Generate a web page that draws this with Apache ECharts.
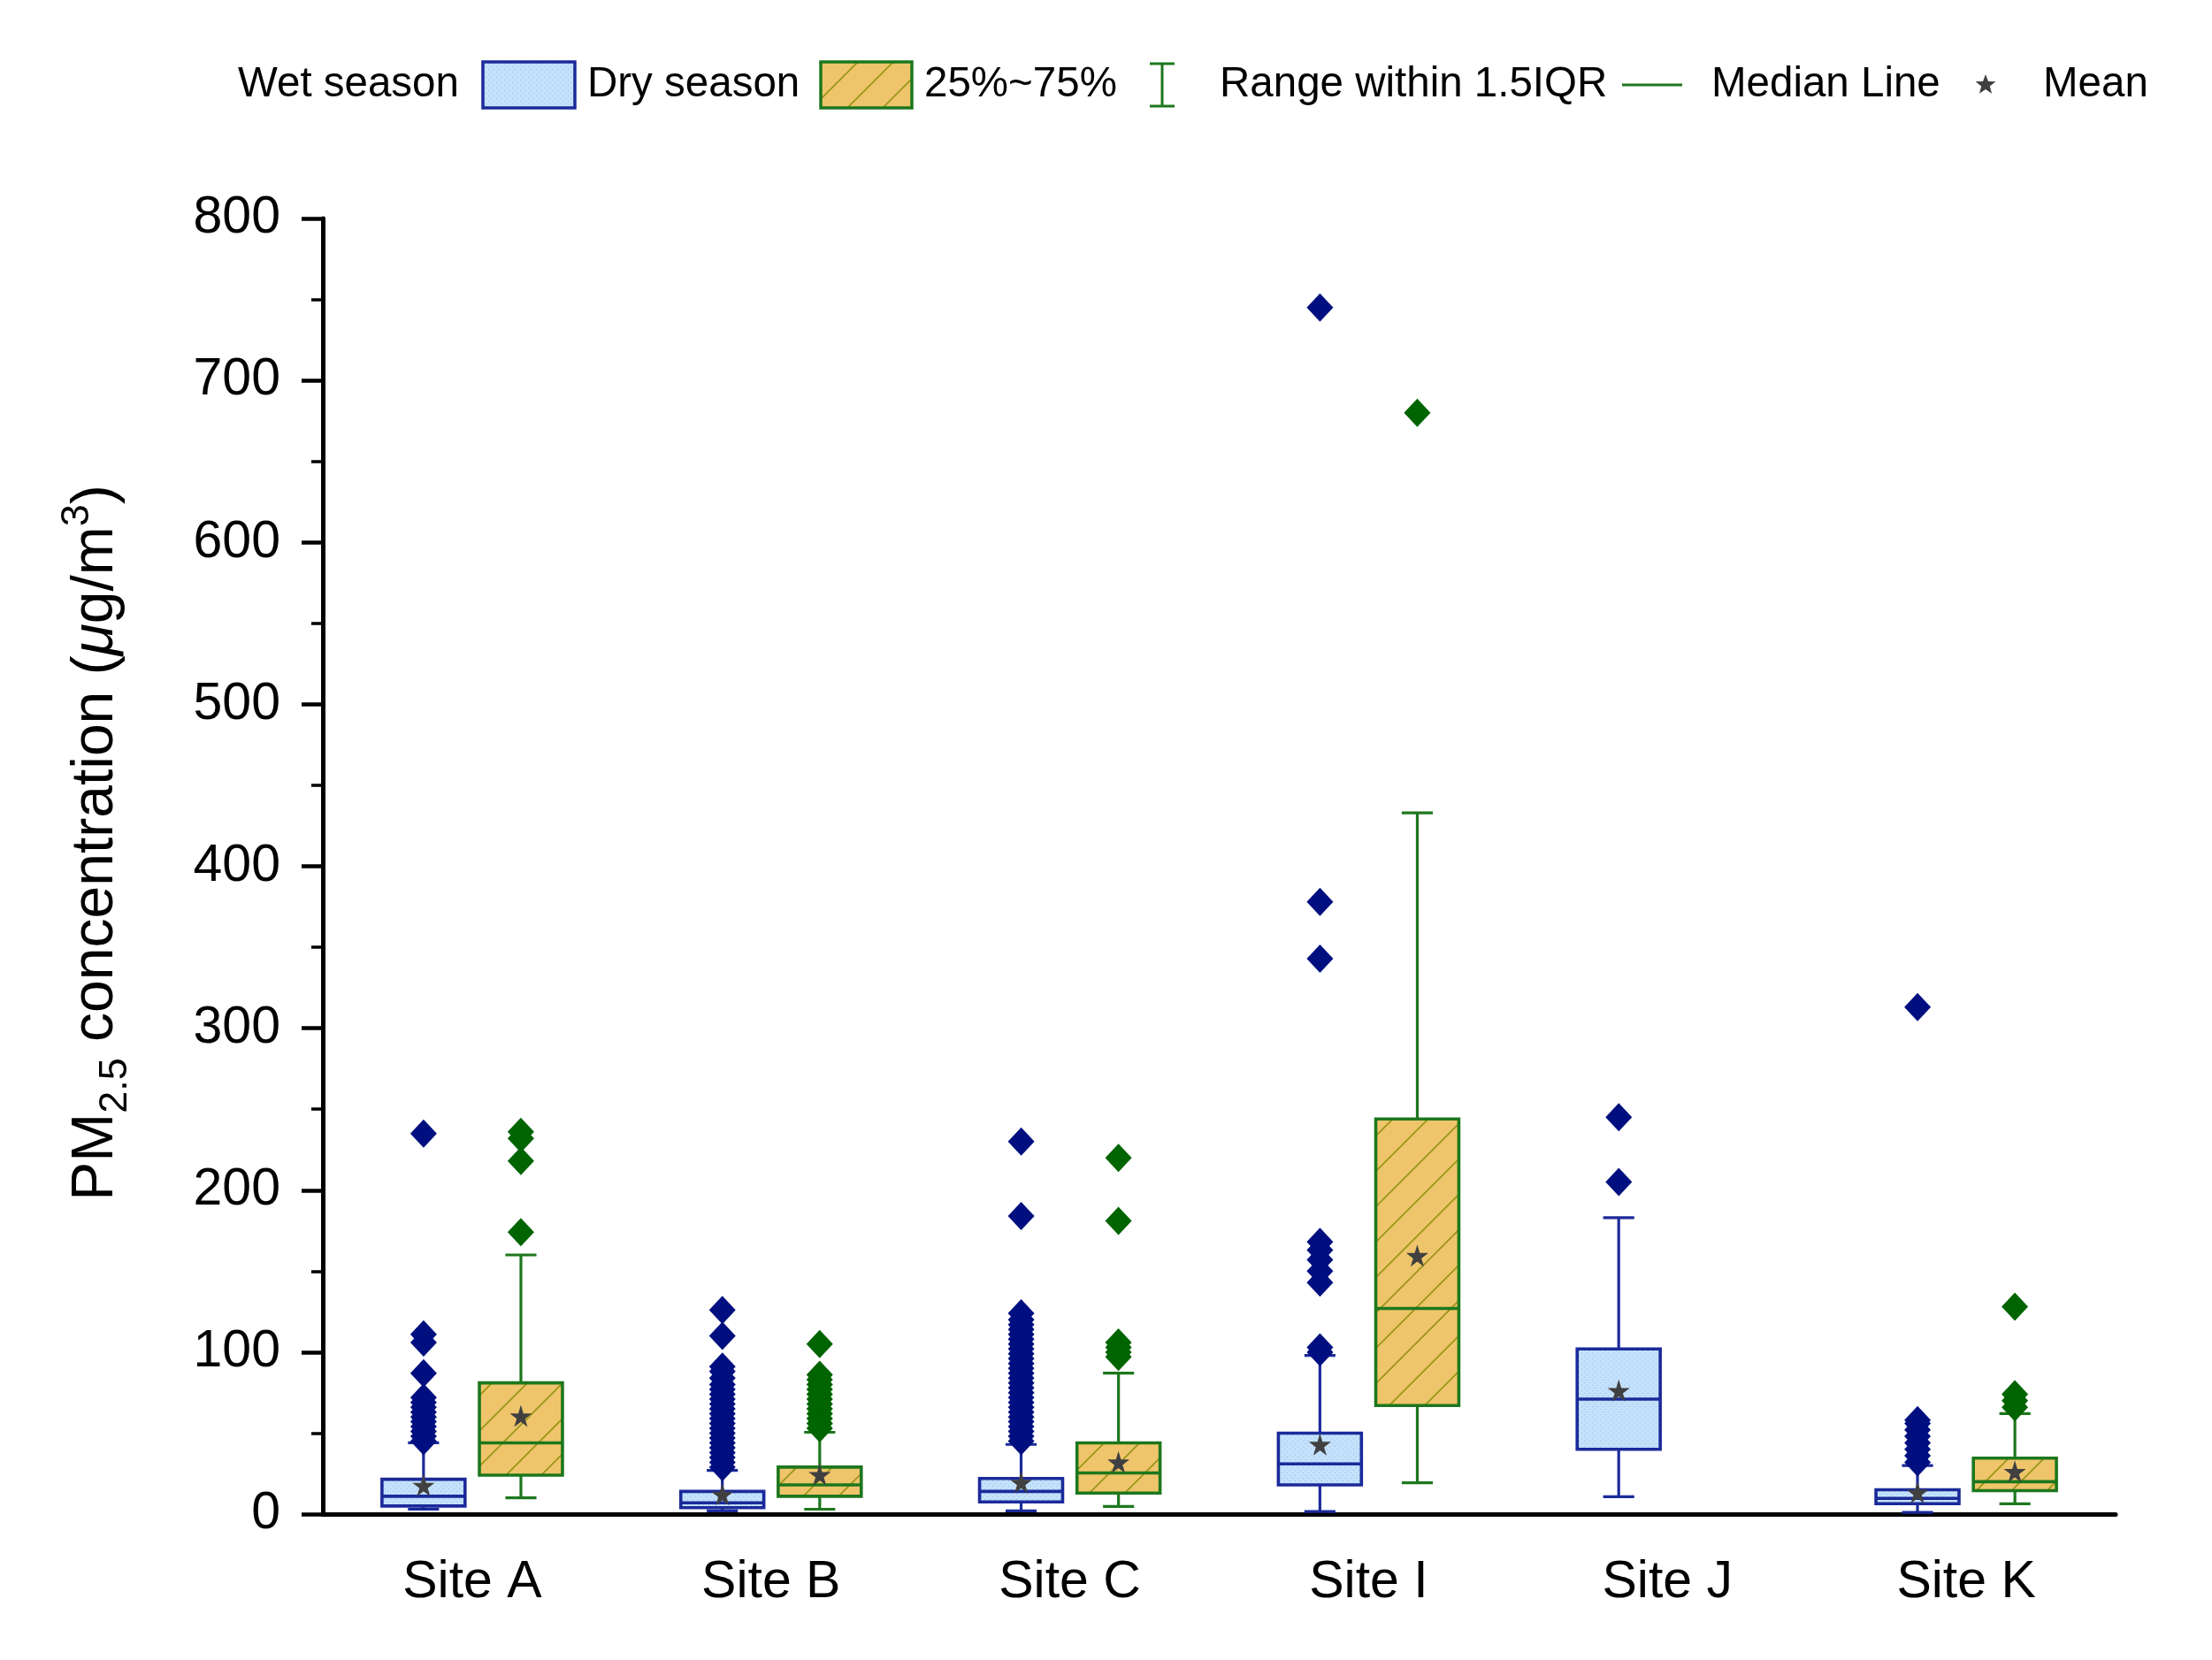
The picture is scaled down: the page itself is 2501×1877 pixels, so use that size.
<!DOCTYPE html>
<html>
<head>
<meta charset="utf-8">
<title>PM2.5 box plot</title>
<script src="https://cdn.jsdelivr.net/npm/echarts@6/dist/echarts.min.js"></script>
<style>
  html, body { margin: 0; padding: 0; background: #fff; }
  #chart { width: 2501px; height: 1877px; }
</style>
</head>
<body>
<div id="chart"></div>
<script>
// categories
var sites = ['Site A', 'Site B', 'Site C', 'Site I', 'Site J', 'Site K'];
var yTicks = [0, 100, 200, 300, 400, 500, 600, 700, 800];

// box stats per site: [lower whisker, Q1, median, Q3, upper whisker]
var wetStats = [
    [3, 5, 11, 21.5, 44],
    [2, 4, 7, 14, 27],
    [2, 7.5, 14, 22, 43],
    [1.6, 18, 31, 50, 98],
    [10.7, 40, 71, 102, 183],
    [1, 6.4, 9.7, 15, 30]
];
var dryStats = [
    [10, 24, 44, 81, 160],
    [3, 11, 18, 29, 50.5],
    [4.7, 13, 25.4, 44, 87],
    [19.3, 67, 127, 244, 433],
    null,
    [6.4, 14.5, 20, 34.5, 62]
];
var wetMean = [17.7, 12.2, 19.6, 43, 76.3, 13.4];
var dryMean = [60.6, 24.4, 32.1, 159.6, null, 26.3];

// outliers per site
var wetOutliers = [
    [45, 48, 51, 54, 57, 60, 63, 66, 69, 72, 87, 106, 111, 235],
    [29, 32, 35, 38, 41, 44, 47, 50, 53, 56, 59, 62, 65, 68, 71, 74, 77, 80, 84, 88, 91, 110, 126],
    [45, 48, 51, 54, 57, 60, 63, 66, 69, 72, 75, 78, 81, 84, 87, 90, 93, 96, 99, 102, 105, 108, 111, 114, 117, 120, 124, 184, 230],
    [100, 103, 143, 150, 157, 163, 168, 343, 378, 745],
    [205, 245],
    [32, 36, 40, 44, 48, 52, 56, 58, 313]
];
var dryOutliers = [
    [174, 218, 232, 236],
    [53, 56, 59, 62, 65, 68, 71, 74, 77, 80, 83, 86, 105],
    [97, 100, 103, 106, 181, 220],
    [680],
    [],
    [66, 70, 74, 128]
];

var FONT = 'Liberation Sans';
var WET_LINE = '#1b2a9a', DRY_LINE = '#1d771d';
var WET_DOT = '#000f80', DRY_DOT = '#006400';
var STAR = 'path://M50,0 L61,35 L98,35 L68,57 L79,91 L50,70 L21,91 L32,57 L2,35 L39,35 Z';

function makeDots() {
    var c = document.createElement('canvas');
    c.width = 6; c.height = 6;
    var g = c.getContext('2d');
    g.fillStyle = '#c3e1fb'; g.fillRect(0, 0, 6, 6);
    g.fillStyle = '#93bdea';
    g.fillRect(0, 0, 1, 1); g.fillRect(3, 3, 1, 1);
    return { image: c, repeat: 'repeat' };
}
function makeHatch() {
    var c = document.createElement('canvas');
    c.width = 40; c.height = 40;
    var g = c.getContext('2d');
    g.fillStyle = '#efc56b'; g.fillRect(0, 0, 40, 40);
    g.strokeStyle = '#9c961a'; g.lineWidth = 1.8;
    g.beginPath();
    g.moveTo(-2, 42); g.lineTo(42, -2);
    g.moveTo(-2, 2); g.lineTo(2, -2);
    g.moveTo(38, 42); g.lineTo(42, 38);
    g.stroke();
    return { image: c, repeat: 'repeat' };
}
var dotFill = makeDots();
var hatchFill = makeHatch();

function starPoints(cx, cy, r) {
    var pts = [];
    for (var k = 0; k < 10; k++) {
        var rr = k % 2 ? r * 0.42 : r;
        var a = -Math.PI / 2 + k * Math.PI / 5;
        pts.push([cx + rr * Math.cos(a), cy + rr * Math.sin(a)]);
    }
    return pts;
}

function boxData(stats) {
    var out = [];
    stats.forEach(function (s, i) { if (s) out.push([i].concat(s)); });
    return out;
}
function pointData(lists) {
    var out = [];
    lists.forEach(function (l, i) { l.forEach(function (v) { out.push([i, v]); }); });
    return out;
}
function meanData(arr) {
    var out = [];
    arr.forEach(function (v, i) { if (v != null) out.push([i, v]); });
    return out;
}

function boxRenderer(side, fill, stroke) {
    return function (params, api) {
        var xi = api.value(0);
        var band = api.size([1, 0])[0];
        var c = api.coord([xi, 0])[0] + side * band * 0.163;
        var hw = band * 0.139, cw = band * 0.052;
        var y = function (k) { return api.coord([xi, api.value(k)])[1]; };
        var yMin = y(1), yQ1 = y(2), yMed = y(3), yQ3 = y(4), yMax = y(5);
        var ls = { stroke: stroke, lineWidth: 3.2 };
        return {
            type: 'group',
            children: [
                { type: 'line', shape: { x1: c, y1: yQ3, x2: c, y2: yMax }, style: ls },
                { type: 'line', shape: { x1: c, y1: yQ1, x2: c, y2: yMin }, style: ls },
                { type: 'line', shape: { x1: c - cw, y1: yMax, x2: c + cw, y2: yMax }, style: ls },
                { type: 'line', shape: { x1: c - cw, y1: yMin, x2: c + cw, y2: yMin }, style: ls },
                { type: 'rect', shape: { x: c - hw, y: yQ3, width: 2 * hw, height: yQ1 - yQ3 },
                  style: { fill: fill, stroke: stroke, lineWidth: 3.6 } },
                { type: 'line', shape: { x1: c - hw, y1: yMed, x2: c + hw, y2: yMed }, style: { stroke: stroke, lineWidth: 3.6 } }
            ]
        };
    };
}

var chart = echarts.init(document.getElementById('chart'));
var legendY = 96;
function ltext(x, s) {
    return {
        type: 'text', x: x, y: legendY, z: 10,
        style: { text: s, fontFamily: FONT, fontSize: 47.5, fill: '#000', align: 'left', verticalAlign: 'middle' }
    };
}

var option = {
    animation: false,
    backgroundColor: '#fff',
    grid: { left: 365, right: 109, top: 247, bottom: 165, containLabel: false, outerBoundsMode: 'none' },
    xAxis: {
        type: 'category',
        data: sites,
        boundaryGap: true,
        axisLine: { lineStyle: { color: '#000', width: 5 } },
        axisTick: { alignWithLabel: true, length: 28, lineStyle: { color: '#000', width: 4.5 } },
        axisLabel: { color: '#000', fontFamily: FONT, fontSize: 59, margin: 48 },
        splitLine: { show: false }
    },
    yAxis: {
        type: 'value',
        min: yTicks[0],
        max: yTicks[yTicks.length - 1],
        interval: 100,
        axisLine: { show: true, lineStyle: { color: '#000', width: 5 } },
        axisTick: { show: true, length: 24, lineStyle: { color: '#000', width: 4.5 } },
        minorTick: { show: true, splitNumber: 2, length: 13, lineStyle: { color: '#000', width: 3.5 } },
        axisLabel: { color: '#000', fontFamily: FONT, fontSize: 59, margin: 48 },
        splitLine: { show: false }
    },
    graphic: [
        ltext(269, 'Wet season'),
        { type: 'rect', z: 10, shape: { x: 546, y: 70, width: 104, height: 52 },
          style: { fill: dotFill, stroke: WET_LINE, lineWidth: 3.5 } },
        ltext(664, 'Dry season'),
        { type: 'rect', z: 10, shape: { x: 928, y: 70, width: 103, height: 52 },
          style: { fill: hatchFill, stroke: DRY_LINE, lineWidth: 3.5 } },
        ltext(1045, '25%~75%'),
        { type: 'line', z: 10, shape: { x1: 1314, y1: 72, x2: 1314, y2: 120 }, style: { stroke: DRY_LINE, lineWidth: 3 } },
        { type: 'line', z: 10, shape: { x1: 1300, y1: 72, x2: 1328, y2: 72 }, style: { stroke: DRY_LINE, lineWidth: 3 } },
        { type: 'line', z: 10, shape: { x1: 1300, y1: 120, x2: 1328, y2: 120 }, style: { stroke: DRY_LINE, lineWidth: 3 } },
        ltext(1379, 'Range within 1.5IQR'),
        { type: 'line', z: 10, shape: { x1: 1834, y1: legendY, x2: 1902, y2: legendY },
          style: { stroke: DRY_LINE, lineWidth: 3 } },
        ltext(1935, 'Median Line'),
        { type: 'polygon', z: 10, shape: { points: starPoints(2245, legendY, 12) },
          style: { fill: '#404040' } },
        ltext(2310, 'Mean'),
        {
            type: 'text', x: 109, y: 953, rotation: Math.PI / 2, z: 10,
            style: {
                text: '{a|PM}{sub|2.5}{a| concentration (}{i|\u03bc}{a|g/m}{sup|3}{a|)}',
                align: 'center', verticalAlign: 'middle',
                fontFamily: FONT, fontSize: 66, fill: '#000',
                rich: {
                    a: { fontFamily: FONT, fontSize: 66, lineHeight: 88, fill: '#000' },
                    i: { fontFamily: FONT, fontSize: 66, lineHeight: 88, fontStyle: 'italic', fill: '#000' },
                    sub: { fontFamily: FONT, fontSize: 45, lineHeight: 44, verticalAlign: 'bottom', fill: '#000' },
                    sup: { fontFamily: FONT, fontSize: 45, lineHeight: 44, verticalAlign: 'top', fill: '#000' }
                }
            }
        }
    ],
    series: [
        {
            name: 'Wet season box', type: 'custom', z: 2,
            renderItem: boxRenderer(-1, dotFill, WET_LINE),
            encode: { x: 0, y: [1, 2, 3, 4, 5] },
            data: boxData(wetStats)
        },
        {
            name: 'Dry season box', type: 'custom', z: 2,
            renderItem: boxRenderer(1, hatchFill, DRY_LINE),
            encode: { x: 0, y: [1, 2, 3, 4, 5] },
            data: boxData(dryStats)
        },
        {
            name: 'Wet outliers', type: 'scatter', z: 3,
            symbol: 'diamond', symbolSize: [30, 32], symbolOffset: [-55, 0],
            itemStyle: { color: WET_DOT, opacity: 1 },
            data: pointData(wetOutliers)
        },
        {
            name: 'Dry outliers', type: 'scatter', z: 3,
            symbol: 'diamond', symbolSize: [30, 32], symbolOffset: [55, 0],
            itemStyle: { color: DRY_DOT, opacity: 1 },
            data: pointData(dryOutliers)
        },
        {
            name: 'Wet mean', type: 'scatter', z: 4,
            symbol: STAR, symbolSize: 25, symbolOffset: [-55, 0],
            itemStyle: { color: '#404040', opacity: 1 },
            data: meanData(wetMean)
        },
        {
            name: 'Dry mean', type: 'scatter', z: 4,
            symbol: STAR, symbolSize: 25, symbolOffset: [55, 0],
            itemStyle: { color: '#404040', opacity: 1 },
            data: meanData(dryMean)
        }
    ]
};
chart.setOption(option);
</script>
</body>
</html>
